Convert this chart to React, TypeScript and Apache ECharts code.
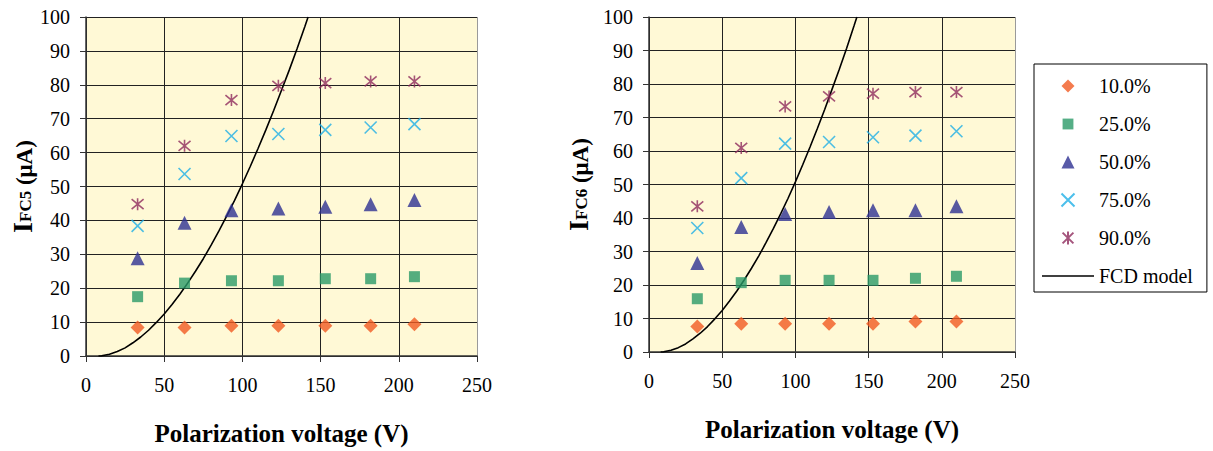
import React, { useEffect, useRef } from "react";
import * as echarts from "echarts";

// Polarization voltage (V) of measured points
const voltages = [33, 63, 93, 123, 153, 182, 210];

// Left chart: IFC5 (µA)
const ifc5_10 = [8.4, 8.4, 8.9, 8.9, 8.9, 8.9, 9.4];
const ifc5_25 = [17.5, 21.5, 22.2, 22.2, 22.8, 22.8, 23.4];
const ifc5_50 = [28.8, 39.3, 43.0, 43.5, 44.0, 44.8, 46.0];
const ifc5_75 = [38.4, 53.7, 64.9, 65.5, 66.7, 67.4, 68.4];
const ifc5_90 = [44.8, 62.0, 75.5, 79.7, 80.5, 81.0, 81.0];

// Right chart: IFC6 (µA)
const ifc6_10 = [7.6, 8.4, 8.4, 8.4, 8.4, 9.1, 9.1];
const ifc6_25 = [15.9, 20.7, 21.4, 21.4, 21.4, 22.0, 22.6];
const ifc6_50 = [26.6, 37.3, 41.2, 41.8, 42.3, 42.3, 43.5];
const ifc6_75 = [37.0, 51.9, 62.2, 62.7, 64.1, 64.6, 65.9];
const ifc6_90 = [43.5, 60.9, 73.3, 76.3, 77.1, 77.6, 77.6];

// FCD model curve
const fcdV = [8, 10, 15, 20, 25, 30, 35, 40, 45, 50, 55, 60, 65, 70, 75, 80, 85, 90, 95, 100, 105, 110, 115, 120, 125, 130, 135, 140, 142];
const fcdI = [0, 0.05, 0.5, 1.3, 2.4, 3.9, 5.6, 7.6, 9.9, 12.4, 15.2, 18.2, 21.5, 25.0, 28.7, 32.7, 36.9, 41.3, 45.9, 50.8, 55.9, 61.2, 66.7, 72.4, 78.4, 84.4, 90.7, 97.3, 100];

const levelNames = ["10.0%", "25.0%", "50.0%", "75.0%", "90.0%"];
const fcdName = "FCD model";
const xTicks = { min: 0, max: 250, interval: 50 };
const yTicks = { min: 0, max: 100, interval: 10 };

const FONT = "Liberation Serif";
const DIAMOND_PATH = "path://M6,0L12,6L6,12L0,6Z";
const RECT_PATH = "path://M0,0M12,12M1,1L11,1L11,11L1,11Z";
const TRI_PATH = "path://M6,0L12,12L0,12Z";
const X_PATH = "path://M0,0L10,10M10,0L0,10";
const STAR_PATH = "path://M0,0L10,10M10,0L0,10M5,-1L5,11";
const LINE_PATH = "path://M0,0L52,0L52,1.5L0,1.5Z";

const markerStyles = [
  { symbol: "diamond", size: 14, itemStyle: { color: "#F15A22" } },
  { symbol: "rect", size: 11, itemStyle: { color: "#2A9A68" } },
  { symbol: "triangle", size: 14, itemStyle: { color: "#2E3192" } },
  { symbol: X_PATH, size: 12, itemStyle: { color: "none", borderColor: "#1FAFE6", borderWidth: 1.6 } },
  { symbol: STAR_PATH, size: 12, itemStyle: { color: "none", borderColor: "#8E2A5C", borderWidth: 1.6 } },
];

export default function App() {
  const ref = useRef<HTMLDivElement>(null);
  useEffect(() => {
    if (!ref.current) return;
    const chart = echarts.init(ref.current, undefined, { renderer: "svg" });
    const leftSets = [ifc5_10, ifc5_25, ifc5_50, ifc5_75, ifc5_90];
    const rightSets = [ifc6_10, ifc6_25, ifc6_50, ifc6_75, ifc6_90];
    const series: any[] = [];
    [leftSets, rightSets].forEach((sets, g) => {
      sets.forEach((vals, i) => {
        const m = markerStyles[i];
        series.push({
          type: "scatter",
          name: levelNames[i],
          xAxisIndex: g,
          yAxisIndex: g,
          symbol: m.symbol,
          symbolSize: m.size,
          itemStyle: m.itemStyle,
          data: voltages.map((v, k) => [v, vals[k]]),
          z: 3,
        });
      });
      series.push({
        type: "line",
        name: fcdName,
        xAxisIndex: g,
        yAxisIndex: g,
        symbol: "none",
        showSymbol: false,
        lineStyle: { color: "#000", width: 1.6 },
        itemStyle: { color: "#000" },
        data: fcdV.map((v, k) => [v, fcdI[k]]),
        clip: true,
        z: 2,
      });
    });

    const grids = [
      { left: 86, top: 17, width: 391, height: 339 },
      { left: 649, top: 17, width: 366, height: 335 },
    ];
    const yNames = ["{i|I}{s|FC5}{u| (μA)}", "{i|I}{s|FC6}{u| (μA)}"];
    const yGaps = [50, 57];

    const axisCommon = {
      axisLine: { show: true, lineStyle: { color: "#333", width: 1.5 } },
      axisTick: { show: true, inside: false, length: 6, lineStyle: { color: "#333", width: 1 } },
    };

    chart.setOption({
      animation: false,
      textStyle: { fontFamily: FONT },
      grid: grids.map((g) => ({
        ...g,
        show: true,
        backgroundColor: "#FFF9D6",
        borderWidth: 0,
        containLabel: false,
      })),
      xAxis: [0, 1].map((g) => ({
        type: "value",
        gridIndex: g,
        ...xTicks,
        ...axisCommon,
        axisLabel: { fontFamily: FONT, fontSize: 20, color: "#000", margin: 19 },
        splitLine: {
          show: true,
          lineStyle: { color: ["#222", "#222", "#222", "#222", "#222", "#9a9a9a"], width: 1 },
        },
        name: "Polarization voltage (V)",
        nameLocation: "middle",
        nameGap: 65,
        nameTextStyle: { fontFamily: FONT, fontSize: 25, fontWeight: "bold", color: "#000" },
      })),
      yAxis: [0, 1].map((g) => ({
        type: "value",
        gridIndex: g,
        ...yTicks,
        ...axisCommon,
        axisLabel: { fontFamily: FONT, fontSize: 20, color: "#000", margin: 16 },
        splitLine: { show: true, lineStyle: { color: "#222", width: 1 } },
        name: yNames[g],
        nameLocation: "middle",
        nameRotate: 90,
        nameGap: yGaps[g],
        nameTextStyle: {
          color: "#000",
          fontFamily: FONT,
          rich: {
            i: { fontFamily: FONT, fontSize: 28, fontWeight: "bold", color: "#000", verticalAlign: "bottom" },
            s: { fontFamily: FONT, fontSize: 17, fontWeight: "bold", color: "#000", verticalAlign: "bottom", padding: [0, 0, 2, 0] },
            u: { fontFamily: FONT, fontSize: 23, fontWeight: "bold", color: "#000", verticalAlign: "bottom" },
          },
        },
      })),
      legend: {
        show: true,
        orient: "vertical",
        left: 1034,
        top: 64,
        padding: [12, 14, 6, 8],
        itemWidth: 52,
        itemHeight: 13,
        itemGap: 18,
        backgroundColor: "#fff",
        borderColor: "#000",
        borderWidth: 1,
        borderRadius: 0,
        selectedMode: false,
        textStyle: { fontFamily: FONT, fontSize: 20, color: "#000" },
        data: [
          { name: levelNames[0], icon: DIAMOND_PATH },
          { name: levelNames[1], icon: RECT_PATH },
          { name: levelNames[2], icon: TRI_PATH },
          { name: levelNames[3], icon: X_PATH },
          { name: levelNames[4], icon: STAR_PATH },
          { name: fcdName, icon: LINE_PATH },
        ],
      },
      series,
    });
    return () => chart.dispose();
  }, []);
  return (
    <div
      ref={ref}
      style={{ position: "absolute", left: 0, top: 0, width: 1213, height: 451, background: "#fff" }}
    />
  );
}
